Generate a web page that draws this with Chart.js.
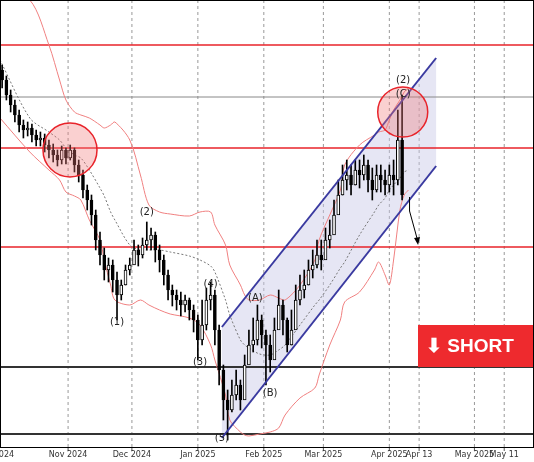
<!DOCTYPE html><html><head><script src="https://cdn.jsdelivr.net/npm/chart.js@4"></script>
<style>html,body{margin:0;padding:0;background:#fff}#w{width:534px;height:462px}</style></head><body><div id="w"><canvas id="c"></canvas></div>
<script>
// x in days since 2024-10-01, y in chart price units (pixel-scale, reversed)
const candleDays=[0,2,4,6,8,10,12,14,16,18,20,22,24,26,28,30,32,34,36,38,40,42,44,46,48,50,52,54,56,58,60,62,64,66,68,70,72,74,76,78,80,82,84,86,88,90,92,94,96,98,100,102,104,106,108,110,112,114,116,118,120,122,124,126,128,130,132,134,136,138,140,142,144,146,148,150,152,154,156,158,160,162,164,166,168,170,172,174,176,178,180,182,184,186,188];
const closes=[80,95,105,115,125,130,128,135,140,138,145,150,155,160,150,158,150,165,175,190,200,215,240,255,270,265,280,295,285,270,265,250,255,245,240,235,250,260,275,290,295,300,305,300,310,320,340,325,300,295,330,370,400,410,395,385,400,365,345,340,320,335,345,360,330,305,320,345,330,300,290,285,270,265,255,260,240,235,215,195,180,175,185,170,175,165,180,190,175,180,185,175,180,140,195];
const opens=[70,80,95,105,115,125,130,128,135,140,138,145,150,155,160,150,158,150,165,175,190,200,215,240,255,270,265,280,295,285,270,265,250,255,245,240,235,250,260,275,290,295,300,305,300,310,320,340,325,300,295,330,370,400,410,395,385,400,365,345,340,320,335,345,360,330,305,320,345,330,300,290,285,270,265,255,260,240,235,215,195,180,175,185,170,175,165,180,190,175,180,185,175,180,140];
const highs=[65,76,90,100,110,120,122,124,130,132,134,140,144,150,146,148,145,148,160,170,185,195,210,232,248,258,260,272,280,265,258,240,245,238,222,228,232,245,255,270,285,290,292,295,298,305,315,300,288,282,290,325,365,390,380,370,380,355,330,318,305,315,330,335,318,290,300,318,310,285,275,270,260,250,240,240,228,220,200,180,165,160,165,160,160,155,160,168,165,165,170,165,160,110,95];
const lows=[88,100,112,122,132,138,136,142,146,146,152,158,162,166,164,164,160,172,182,198,210,225,250,265,280,282,292,320,300,285,275,262,266,258,250,250,262,272,285,300,306,310,316,312,320,332,360,345,330,310,345,385,420,440,412,400,410,380,360,352,345,348,385,372,350,320,335,352,345,318,305,298,285,278,268,270,255,248,232,210,195,190,195,185,188,180,192,200,192,192,195,192,195,185,200];
const bandDays=[-1,13,22,27,30,34,37,41,46,48,51,53,60,65,69,74,79,88,93,98,100,105,107,112,114,116,121,126,130,133,140,147,149,154,159,161,168,175,177,180,182,184,187,189,191];
const upperBand=[-10,0,45,80,100,112,115,118,125,128,125,122,140,175,205,212,214,216,212,212,225,245,265,285,295,300,300,295,298,300,285,260,240,215,190,165,145,135,132,130,120,110,100,92,88];
const lowerBand=[118,152,170,180,192,196,200,220,240,260,285,300,305,300,305,310,314,318,325,345,360,395,420,432,435,436,434,432,428,415,398,388,375,345,320,302,292,270,262,275,285,260,210,195,190];
const midBand=[60,118,132,140,148,155,158,170,188,196,212,220,245,250,250,250,252,256,260,266,272,300,315,340,345,348,354,355,350,345,325,305,300,285,268,262,235,212,205,198,190,185,178,172,170];
const monthTicks=[-3,31,61,92,123,151,182,196,222,236];
const monthLabels=["Oct 2024","Nov 2024","Dec 2024","Jan 2025","Feb 2025","Mar 2025","Apr 2025","Apr 13","May 2025","May 11"];
const redLevels=[45,148,247];
const grayLevels=[97];
const blackLevels=[367,434];
const channelUpper=[[103.3,327],[204,58]];
const channelLower=[[103.3,438],[204,166]];
const waveLabels=[["(1)",54,322],["(2)",68,212],["(3)",93,362],["(4)",98,284],["(5)",103.3,438],["(A)",119,298],["(B)",126,393],["(2)",188.5,80],["(C)",188.5,94]];
const circles=[[31.9,150,27],[188.3,112,25]];

const bodies=candleDays.map((d,i)=>({x:d,y:[opens[i],closes[i]]}));
const wicks=candleDays.map((d,i)=>({x:d,y:[lows[i],highs[i]]}));
const bodyFill=candleDays.map((d,i)=>closes[i]<opens[i]?'#ffffff':'#000000');
const band=(arr)=>bandDays.map((d,i)=>({x:d,y:arr[i]}));

const overlay={id:'ov',
 beforeDatasetsDraw(ch){const c=ch.ctx,X=ch.scales.x,Y=ch.scales.y,a=ch.chartArea;
  c.save();
  c.strokeStyle='#999';c.setLineDash([3,3]);c.lineWidth=1;
  monthTicks.forEach(t=>{const px=X.getPixelForValue(t);c.beginPath();c.moveTo(px,a.top);c.lineTo(px,a.bottom);c.stroke();});
  c.setLineDash([]);
  const P=p=>[X.getPixelForValue(p[0]),Y.getPixelForValue(p[1])];
  const u0=P(channelUpper[0]),u1=P(channelUpper[1]),l0=P(channelLower[0]),l1=P(channelLower[1]);
  c.fillStyle='rgba(200,200,230,0.45)';c.beginPath();c.moveTo(...u0);c.lineTo(...u1);c.lineTo(...l1);c.lineTo(...l0);c.closePath();c.fill();
  c.lineWidth=1.5;
  redLevels.forEach(v=>{const py=Y.getPixelForValue(v);c.strokeStyle='#e8232a';c.beginPath();c.moveTo(a.left,py);c.lineTo(a.right,py);c.stroke();});
  c.lineWidth=1;grayLevels.forEach(v=>{const py=Y.getPixelForValue(v);c.strokeStyle='#888';c.beginPath();c.moveTo(a.left,py);c.lineTo(a.right,py);c.stroke();});
  c.lineWidth=2;blackLevels.forEach(v=>{const py=Y.getPixelForValue(v);c.strokeStyle='#333';c.beginPath();c.moveTo(a.left,py);c.lineTo(a.right,py);c.stroke();});
  c.restore();},
 afterDatasetsDraw(ch){const c=ch.ctx,X=ch.scales.x,Y=ch.scales.y,a=ch.chartArea;
  const P=p=>[X.getPixelForValue(p[0]),Y.getPixelForValue(p[1])];
  c.save();
  c.strokeStyle='#3a3aa0';c.lineWidth=2;
  [channelUpper,channelLower].forEach(l=>{c.beginPath();c.moveTo(...P(l[0]));c.lineTo(...P(l[1]));c.stroke();});
  circles.forEach(ci=>{const [px,py]=P(ci);c.beginPath();c.arc(px,py,ci[2],0,Math.PI*2);c.fillStyle='rgba(240,120,120,0.35)';c.fill();c.strokeStyle='#e8232a';c.lineWidth=1.5;c.stroke();});
  c.font='10px "DejaVu Sans"';c.textAlign='center';c.textBaseline='middle';
  waveLabels.forEach(w=>{const [px,py]=P([w[1],w[2]]);c.fillStyle='#222';c.fillText(w[0],px,py);});
  const s=P([191.5,197]),e=P([195.5,242]);
  c.strokeStyle='#000';c.lineWidth=1;c.beginPath();c.moveTo(...s);c.lineTo(s[0],s[1]+14);c.lineTo(...e);c.stroke();
  c.beginPath();c.moveTo(e[0],e[1]+3);c.lineTo(e[0]-4,e[1]-4);c.lineTo(e[0]+2,e[1]-5);c.closePath();c.fillStyle='#000';c.fill();
  const bx=418,by=Y.getPixelForValue(325),bh=Y.getPixelForValue(367)-by;
  c.fillStyle='#ee2a2e';c.fillRect(bx,by,a.right-bx,bh);
  c.fillStyle='#fff';c.font='bold 19px "Liberation Sans"';c.textAlign='left';c.fillText('⬇ SHORT',bx+8,by+bh/2+1);
  c.fillStyle='#333';c.font='8px "DejaVu Sans"';c.textAlign='center';c.textBaseline='top';
  c.strokeStyle='#555';c.lineWidth=1;
  monthTicks.forEach((t,i)=>{const px=X.getPixelForValue(t);c.beginPath();c.moveTo(px,a.bottom);c.lineTo(px,a.bottom+3);c.stroke();c.fillText(monthLabels[i],px,a.bottom+3);});
  c.strokeStyle='#000';c.strokeRect(a.left+0.5,a.top+0.5,a.right-a.left-1,a.bottom-a.top-1);
  c.restore();}};

new Chart(document.getElementById('c'),{
 data:{datasets:[
  {type:'line',data:band(upperBand),borderColor:'#f08080',borderWidth:1,pointRadius:0,tension:0.3,order:5},
  {type:'line',data:band(lowerBand),borderColor:'#f08080',borderWidth:1,pointRadius:0,tension:0.3,order:5},
  {type:'line',data:band(midBand),borderColor:'#777',borderDash:[2,2],borderWidth:1,pointRadius:0,tension:0.3,order:5},
  {type:'bar',data:wicks,backgroundColor:'#000',barThickness:1,grouped:false,order:2},
  {type:'bar',data:bodies,backgroundColor:bodyFill,borderColor:'#000',borderWidth:1,borderSkipped:false,barThickness:3,grouped:false,order:1}
 ]},
 options:{responsive:true,maintainAspectRatio:false,animation:false,
  layout:{padding:0},
  plugins:{legend:{display:false},tooltip:{enabled:false}},
  scales:{
   x:{type:'linear',offset:false,min:-1,max:250,grid:{display:false,offset:false},border:{display:false},
     afterFit(s){s.height=14;},
     ticks:{display:false}},
   y:{display:false,reverse:true,min:0,max:448}
  }},
 plugins:[overlay]});
</script></body></html>
